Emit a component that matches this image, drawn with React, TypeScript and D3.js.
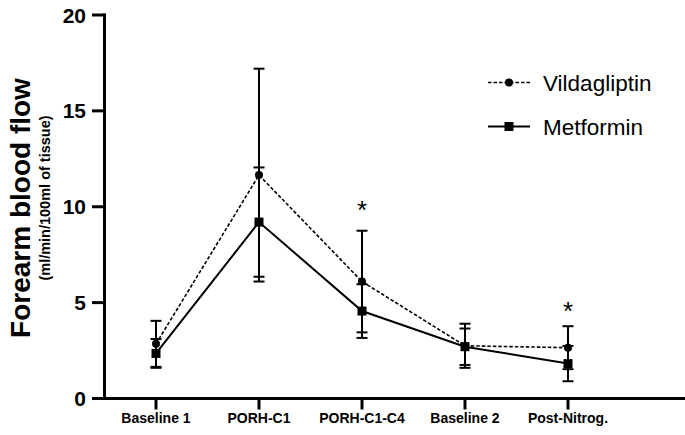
import { useEffect, useRef } from "react";
import * as d3 from "d3";

const categories = ["Baseline 1", "PORH-C1", "PORH-C1-C4", "Baseline 2", "Post-Nitrog."];
const vildMean = [2.85, 11.65, 6.1, 2.75, 2.65];
const vildErr = [1.2, 5.55, 2.65, 1.15, 1.12];
const metMean = [2.35, 9.2, 4.56, 2.7, 1.82];
const metErr = [0.75, 2.85, 1.4, 0.95, 0.92];
const starAt = [null, null, 10.1, null, 4.85];
const yTicks = [0, 5, 10, 15, 20];

const W = 685;
const H = 435;

export default function App() {
  const ref = useRef<SVGSVGElement | null>(null);

  useEffect(() => {
    if (!ref.current) return;
    const svg = d3.select(ref.current);
    svg.selectAll("*").remove();

    const font = "'Liberation Sans', Arial, sans-serif";
    const axisX = 104.5;
    const axisY = 398.5;

    const x = d3.scalePoint<string>().domain(categories).range([156, 568]);
    const y = d3.scaleLinear().domain([0, 20]).range([axisY, 15]);

    const g = svg.append("g");

    // y axis
    g.append("line")
      .attr("x1", axisX).attr("x2", axisX)
      .attr("y1", y(20) - 1.5).attr("y2", axisY + 1.5)
      .attr("stroke", "#000").attr("stroke-width", 3);
    yTicks.forEach((t) => {
      g.append("line")
        .attr("x1", 92).attr("x2", axisX)
        .attr("y1", y(t)).attr("y2", y(t))
        .attr("stroke", "#000").attr("stroke-width", 3);
      g.append("text")
        .attr("x", 86).attr("y", y(t) + 7.5)
        .attr("text-anchor", "end")
        .attr("font-family", font).attr("font-weight", "bold").attr("font-size", 21)
        .text(t);
    });

    // x axis
    g.append("line")
      .attr("x1", axisX - 1.5).attr("x2", W)
      .attr("y1", axisY).attr("y2", axisY)
      .attr("stroke", "#000").attr("stroke-width", 3);
    categories.forEach((c) => {
      g.append("line")
        .attr("x1", x(c)!).attr("x2", x(c)!)
        .attr("y1", axisY).attr("y2", axisY + 11)
        .attr("stroke", "#000").attr("stroke-width", 3);
      g.append("text")
        .attr("x", x(c)!).attr("y", 423)
        .attr("text-anchor", "middle")
        .attr("font-family", font).attr("font-weight", "bold").attr("font-size", 14)
        .text(c);
    });

    // axis titles
    g.append("text")
      .attr("transform", "translate(30,208) rotate(-90)")
      .attr("text-anchor", "middle")
      .attr("font-family", font).attr("font-weight", "bold").attr("font-size", 28)
      .text("Forearm blood flow");
    g.append("text")
      .attr("transform", "translate(50,198) rotate(-90)")
      .attr("text-anchor", "middle")
      .attr("font-family", font).attr("font-weight", "bold").attr("font-size", 14.5)
      .text("(ml/min/100ml of tissue)");

    const errBars = (mean: number[], err: number[]) => {
      mean.forEach((m, i) => {
        const cx = x(categories[i])!;
        const top = y(m + err[i]);
        const bot = y(m - err[i]);
        g.append("line").attr("x1", cx).attr("x2", cx).attr("y1", top).attr("y2", bot)
          .attr("stroke", "#000").attr("stroke-width", 2);
        [top, bot].forEach((yy) => {
          g.append("line").attr("x1", cx - 5.5).attr("x2", cx + 5.5).attr("y1", yy).attr("y2", yy)
            .attr("stroke", "#000").attr("stroke-width", 2);
        });
      });
    };
    errBars(vildMean, vildErr);
    errBars(metMean, metErr);

    const line = d3.line<number>()
      .x((_, i) => x(categories[i])!)
      .y((d) => y(d));

    g.append("path").datum(vildMean).attr("d", line)
      .attr("fill", "none").attr("stroke", "#000").attr("stroke-width", 1.6)
      .attr("stroke-dasharray", "3.5,2");
    g.append("path").datum(metMean).attr("d", line)
      .attr("fill", "none").attr("stroke", "#000").attr("stroke-width", 2);

    vildMean.forEach((m, i) => {
      g.append("circle").attr("cx", x(categories[i])!).attr("cy", y(m)).attr("r", 4).attr("fill", "#000");
    });
    metMean.forEach((m, i) => {
      g.append("rect").attr("x", x(categories[i])! - 4.5).attr("y", y(m) - 4.5)
        .attr("width", 9).attr("height", 9).attr("fill", "#000");
    });

    starAt.forEach((s, i) => {
      if (s == null) return;
      g.append("text")
        .attr("x", x(categories[i])!).attr("y", y(s) + 14)
        .attr("text-anchor", "middle")
        .attr("font-family", font).attr("font-size", 26)
        .text("*");
    });

    // legend
    const leg = [
      { name: "Vildagliptin", y: 82.5, dash: "3.5,2", w: 1.6, shape: "circle" },
      { name: "Metformin", y: 126.5, dash: null, w: 2, shape: "square" },
    ];
    leg.forEach((l) => {
      g.append("line").attr("x1", 488).attr("x2", 530).attr("y1", l.y).attr("y2", l.y)
        .attr("stroke", "#000").attr("stroke-width", l.w)
        .attr("stroke-dasharray", l.dash);
      if (l.shape === "circle") {
        g.append("circle").attr("cx", 509).attr("cy", l.y).attr("r", 4).attr("fill", "#000");
      } else {
        g.append("rect").attr("x", 504.5).attr("y", l.y - 4.5).attr("width", 9).attr("height", 9).attr("fill", "#000");
      }
      g.append("text")
        .attr("x", 543).attr("y", l.y + 8)
        .attr("font-family", font).attr("font-size", 22.5)
        .text(l.name);
    });
  }, []);

  return (
    <svg
      ref={ref}
      width={W}
      height={H}
      style={{ position: "absolute", left: 0, top: 0, background: "#fff" }}
    />
  );
}
